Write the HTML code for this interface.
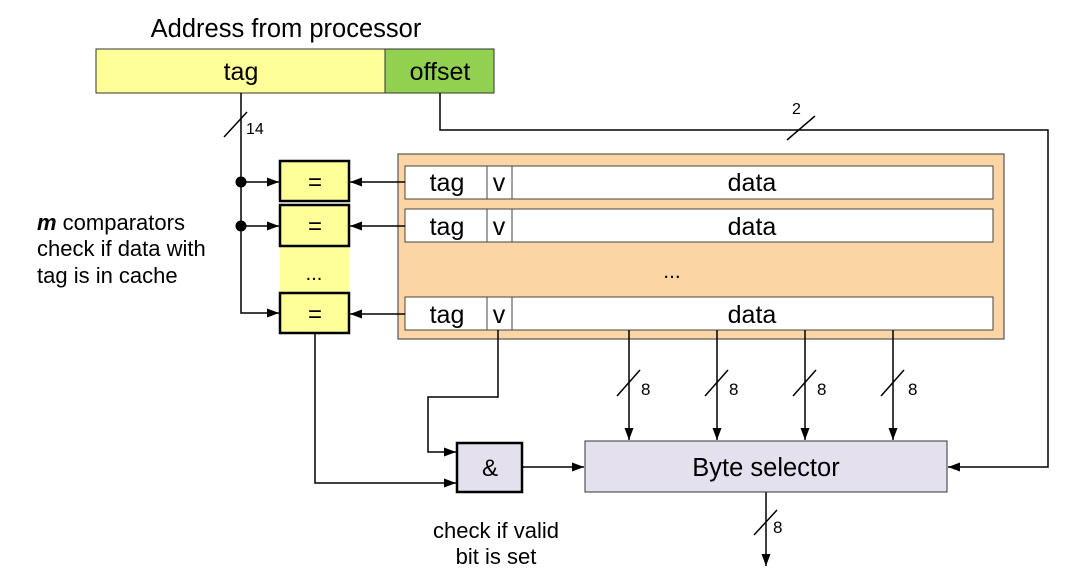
<!DOCTYPE html>
<html><head><meta charset="utf-8"><style>
html,body{margin:0;padding:0;background:#fff;}
svg{display:block;font-family:"Liberation Sans",Arial,sans-serif;}
</style></head><body>
<svg width="1087" height="584" viewBox="0 0 1087 584" xmlns="http://www.w3.org/2000/svg">
<defs><marker id="a" viewBox="0 0 12 10" refX="12" refY="5" markerWidth="12" markerHeight="10" markerUnits="userSpaceOnUse" orient="auto"><path d="M0,0.5 L12,5 L0,9.5 z" fill="#000"/></marker></defs>
<text x="286" y="37" font-size="25.5" text-anchor="middle">Address from processor</text>
<rect x="96" y="49" width="289" height="44" fill="#ffff99" stroke="#333" stroke-width="1"/>
<rect x="385" y="49" width="109" height="44" fill="#92d050" stroke="#333" stroke-width="1"/>
<text x="241" y="80" font-size="25" text-anchor="middle">tag</text>
<text x="440" y="80" font-size="25" text-anchor="middle">offset</text>
<g stroke="#000" stroke-width="1.5" fill="none">
<path d="M241,93 V313 H279" marker-end="url(#a)"/>
<path d="M241,182 H279" marker-end="url(#a)"/>
<path d="M241,226 H279" marker-end="url(#a)"/>
<path d="M440,93 V130 H1048 V467 H948" marker-end="url(#a)"/>
<line x1="224" y1="137" x2="247" y2="112"/>
<line x1="787" y1="140" x2="815" y2="116"/>
</g>
<text x="246" y="134" font-size="16">14</text>
<text x="792" y="114" font-size="16">2</text>
<circle cx="241" cy="182" r="5.5"/><circle cx="241" cy="226" r="5.5"/>
<rect x="280" y="246" width="69" height="47" fill="#ffff99"/>
<text x="314" y="280" font-size="20" text-anchor="middle">...</text>
<g fill="#ffff99" stroke="#000" stroke-width="2.5">
<rect x="280" y="161" width="69" height="40"/>
<rect x="280" y="205" width="69" height="41"/>
<rect x="280" y="293" width="69" height="40"/>
</g>
<g font-size="24" text-anchor="middle"><text x="315" y="190">=</text><text x="315" y="234">=</text><text x="315" y="322">=</text></g>
<rect x="398" y="154" width="606" height="185" fill="#fcd5a5" stroke="#555" stroke-width="1.2"/>
<g fill="#fff" stroke="#444" stroke-width="1">
<rect x="405" y="166" width="588" height="33"/><rect x="405" y="209" width="588" height="33"/><rect x="405" y="297" width="588" height="33"/>
<path d="M487,166V199M512,166V199M487,209V242M512,209V242M487,297V330M512,297V330"/>
</g>
<g font-size="25" text-anchor="middle">
<text x="447" y="191">tag</text><text x="499" y="191">v</text><text x="752" y="191">data</text>
<text x="447" y="235">tag</text><text x="499" y="235">v</text><text x="752" y="235">data</text>
<text x="447" y="323">tag</text><text x="499" y="323">v</text><text x="752" y="323">data</text>
<text x="672" y="278" font-size="21">...</text>
</g>
<g stroke="#000" stroke-width="1.5" fill="none">
<path d="M405,182 H350" marker-end="url(#a)"/>
<path d="M405,226 H350" marker-end="url(#a)"/>
<path d="M405,314 H350" marker-end="url(#a)"/>
<path d="M629,330 V440" marker-end="url(#a)"/>
<path d="M717,330 V440" marker-end="url(#a)"/>
<path d="M805,330 V440" marker-end="url(#a)"/>
<path d="M893,330 V440" marker-end="url(#a)"/>
<line x1="617" y1="396" x2="640" y2="370"/><line x1="705" y1="396" x2="728" y2="370"/>
<line x1="793" y1="396" x2="816" y2="370"/><line x1="881" y1="396" x2="904" y2="370"/>
<path d="M498,330 V397 H428 V452 H456" marker-end="url(#a)"/>
<path d="M315,333 V483 H456" marker-end="url(#a)"/>
<path d="M522,467 H584" marker-end="url(#a)"/>
<path d="M766,492 V566" marker-end="url(#a)"/>
<line x1="754" y1="535" x2="777" y2="510"/>
</g>
<g font-size="17"><text x="641" y="395">8</text><text x="729" y="395">8</text><text x="817" y="395">8</text><text x="908" y="395">8</text><text x="773" y="533">8</text></g>
<rect x="585" y="441" width="362" height="51" fill="#e4e0ee" stroke="#333" stroke-width="1"/>
<text x="766" y="476" font-size="25.5" text-anchor="middle">Byte selector</text>
<rect x="457" y="443" width="65" height="49" fill="#e4e0ee" stroke="#000" stroke-width="2.5"/>
<text x="490" y="476" font-size="24" text-anchor="middle">&amp;</text>
<g font-size="22" text-anchor="middle"><text x="496" y="538">check if valid</text><text x="496" y="564">bit is set</text></g>
<g font-size="22"><text x="37" y="230"><tspan font-weight="bold" font-style="italic">m</tspan> comparators</text><text x="37" y="256">check if data with</text><text x="37" y="283">tag is in cache</text></g>
</svg>
</body></html>
